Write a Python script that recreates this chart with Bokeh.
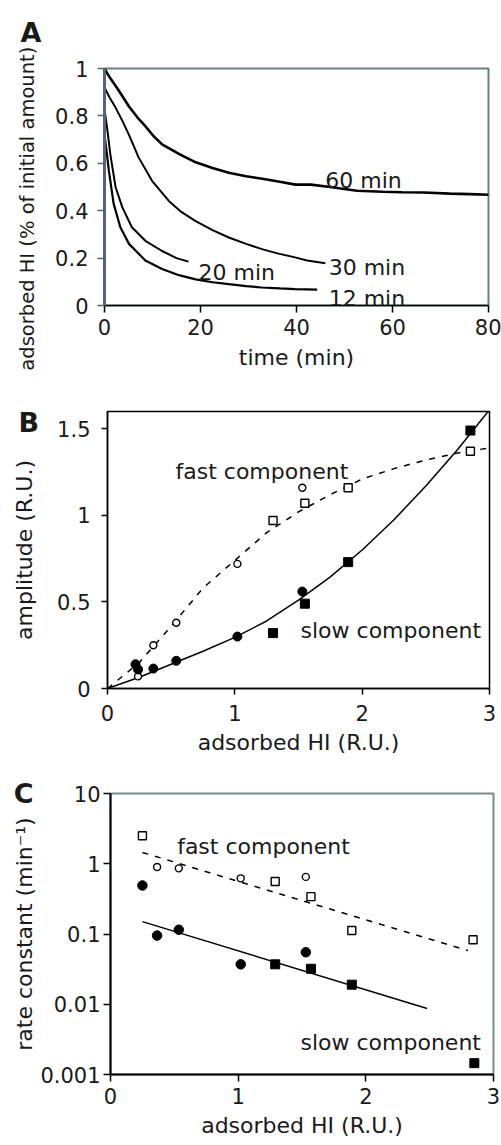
from bokeh.plotting import figure
from bokeh.models import Range1d, FixedTicker, Label, LogAxis
from bokeh.embed import file_html
from bokeh.resources import INLINE

FONT = "DejaVu Sans"
TXT = "#1a1a1a"

# ---------------- Panel A data: dissociation curves ----------------
t_60 = [0, 1, 2.3, 3.5, 5.1, 6.8, 8.5, 10.2, 12, 15.5, 19, 22.5, 25.9, 29.5,
        32.9, 36.5, 39.8, 43, 47, 52.6, 58, 62, 66.5, 72, 76, 80]
y_60 = [1.0, 0.965, 0.927, 0.89, 0.84, 0.795, 0.757, 0.715, 0.68, 0.64, 0.604,
        0.58, 0.56, 0.545, 0.535, 0.522, 0.51, 0.51, 0.5, 0.484, 0.48, 0.478,
        0.477, 0.472, 0.47, 0.467]
t_30 = [0, 1, 2.3, 3.7, 5.1, 7.1, 9.9, 13.4, 16, 18.9, 22.5, 25.9, 29.5, 32.8,
        36, 39.7, 42.2, 46]
y_30 = [0.92, 0.88, 0.835, 0.78, 0.72, 0.625, 0.526, 0.441, 0.395, 0.357,
        0.318, 0.287, 0.26, 0.238, 0.22, 0.203, 0.19, 0.178]
t_20 = [0, 0.6, 1.2, 2.3, 3.7, 5.7, 8.5, 12, 15, 17.5]
y_20 = [0.83, 0.74, 0.64, 0.5, 0.415, 0.33, 0.273, 0.23, 0.2, 0.185]
t_12 = [0, 0.5, 0.9, 1.9, 3.3, 5.1, 8.5, 12, 15.5, 19, 22.5, 25.9, 29.5, 32.8,
        36.5, 39.7, 44.3]
y_12 = [0.72, 0.64, 0.57, 0.43, 0.33, 0.26, 0.19, 0.154, 0.128, 0.11, 0.098,
        0.09, 0.082, 0.076, 0.072, 0.069, 0.067]
curve_labels_A = ["60 min", "30 min", "20 min", "12 min"]
xticks_A = [0, 20, 40, 60, 80]
yticks_A = [0, 0.2, 0.4, 0.6, 0.8, 1]
ylabels_A = ["0", "0.2", "0.4", "0.6", "0.8", "1"]

# ---------------- Panel B data: amplitudes ----------------
B_fast_circ_x = [0.24, 0.36, 0.54, 1.02, 1.53]
B_fast_circ_y = [0.07, 0.25, 0.38, 0.72, 1.16]
B_fast_sq_x = [1.30, 1.55, 1.89, 2.85]
B_fast_sq_y = [0.97, 1.07, 1.16, 1.37]
B_slow_circ_x = [0.22, 0.24, 0.36, 0.54, 1.02, 1.53]
B_slow_circ_y = [0.14, 0.11, 0.115, 0.16, 0.30, 0.56]
B_slow_sq_x = [1.30, 1.55, 1.89, 2.85]
B_slow_sq_y = [0.32, 0.49, 0.73, 1.49]
B_fit_x = [0, 0.25, 0.5, 0.75, 1, 1.25, 1.5, 1.75, 2, 2.25, 2.5, 2.75, 3]
B_fit_fast = [0, 0.15, 0.36, 0.58, 0.74, 0.90, 1.02, 1.12, 1.21, 1.27, 1.32, 1.36, 1.39]
B_fit_slow = [0, 0.065, 0.14, 0.215, 0.295, 0.39, 0.51, 0.645, 0.80, 0.975, 1.17, 1.38, 1.61]
ticks_B_x = [0, 1, 2, 3]
yticks_B = [0, 0.5, 1, 1.5]
ylabels_B = ["0", "0.5", "1", "1.5"]

# ---------------- Panel C data: rate constants ----------------
C_fast_circ_x = [0.365, 0.535, 1.02, 1.53]
C_fast_circ_y = [0.9, 0.86, 0.62, 0.65]
C_fast_sq_x = [0.25, 1.29, 1.57, 1.89, 2.84]
C_fast_sq_y = [2.5, 0.56, 0.34, 0.112, 0.083]
C_slow_circ_x = [0.25, 0.365, 0.535, 1.02, 1.53]
C_slow_circ_y = [0.49, 0.095, 0.115, 0.037, 0.055]
C_slow_sq_x = [1.29, 1.57, 1.89, 2.85]
C_slow_sq_y = [0.037, 0.032, 0.019, 0.00145]
C_fit_fast_x = [0.25, 2.80]
C_fit_fast_y = [1.45, 0.058]
C_fit_slow_x = [0.25, 2.48]
C_fit_slow_y = [0.15, 0.0087]
yticks_C = [0.001, 0.01, 0.1, 1, 10]
ylabels_C = ["0.001", "0.01", "0.1", "1", "10"]

W = 501
NB = "\u00a0"


def base_fig(letter, xr, yr, fw, fh, left, top, bottom, y_type="linear"):
    p = figure(title=letter, frame_width=fw, frame_height=fh, x_range=xr, y_range=yr,
               y_axis_type=y_type, output_backend="svg", toolbar_location=None,
               min_border_left=left, min_border_right=W - left - fw,
               min_border_top=top, min_border_bottom=bottom)
    p.title.text_font = FONT
    p.title.text_font_size = "27px"
    p.title.text_font_style = "bold"
    p.title.text_color = TXT
    p.title.align = "left"
    p.title.vertical_align = "bottom"
    p.xgrid.grid_line_color = None
    p.ygrid.grid_line_color = None
    p.background_fill_color = "white"
    p.border_fill_color = "white"
    for ax in (p.xaxis[0], p.yaxis[0]):
        ax.major_label_text_font = FONT
        ax.major_label_text_font_size = "21px"
        ax.major_label_text_color = TXT
        ax.axis_label_text_font = FONT
        ax.axis_label_text_font_size = "22px"
        ax.axis_label_text_font_style = "normal"
        ax.axis_label_text_color = TXT
        ax.major_tick_in = 0
        ax.major_tick_out = 7
        ax.minor_tick_line_color = None
        ax.axis_line_color = "black"
        ax.axis_line_width = 1.5
        ax.major_tick_line_width = 1.5
    return p


def add_text(p, x, y, text, size="22px"):
    p.add_layout(Label(x=x, y=y, text=text, text_font=FONT, text_font_size=size,
                       text_color=TXT, text_align="left", text_baseline="alphabetic"))


# ---------------- Panel A ----------------
pA = base_fig("A\n", Range1d(0, 80), Range1d(0, 1), 384, 237, 104, 68, 75)
pA.title.offset = -84
pA.title.standoff = -20
pA.xaxis.ticker = FixedTicker(ticks=xticks_A)
pA.yaxis.ticker = FixedTicker(ticks=yticks_A)
pA.yaxis.major_label_overrides = dict(zip(yticks_A, ylabels_A))
pA.yaxis.major_label_standoff = 9
pA.xaxis.major_label_standoff = 6
pA.xaxis.axis_label = "time (min)"
pA.xaxis.axis_label_standoff = 7
pA.yaxis.axis_label = "adsorbed HI (% of initial amount)" + NB * 7
pA.yaxis.axis_label_text_font_size = "19.5px"
pA.yaxis.axis_label_standoff = 13
pA.outline_line_color = "#6b8080"
pA.outline_line_width = 2
pA.yaxis.axis_line_color = "#55666a"
pA.yaxis.axis_line_width = 3
pA.yaxis.major_tick_line_color = "#55666a"

pA.line(t_60, y_60, line_color="black", line_width=2.6)
pA.line(t_30, y_30, line_color="black", line_width=2)
pA.line(t_20, y_20, line_color="black", line_width=2)
pA.line(t_12, y_12, line_color="black", line_width=2.2)

add_text(pA, 46.0, 0.527, curve_labels_A[0])
add_text(pA, 46.7, 0.160, curve_labels_A[1])
add_text(pA, 19.6, 0.139, curve_labels_A[2])
add_text(pA, 46.7, 0.030, curve_labels_A[3])

# ---------------- Panel B ----------------
pB = base_fig("\nB", Range1d(0, 3), Range1d(0, 1.6), 382, 277, 107, 31, 74)
pB.title.offset = -89
pB.title.standoff = -53
pB.xaxis.ticker = FixedTicker(ticks=ticks_B_x)
pB.yaxis.ticker = FixedTicker(ticks=yticks_B)
pB.yaxis.major_label_overrides = dict(zip(yticks_B, ylabels_B))
pB.yaxis.major_label_standoff = 11
pB.xaxis.major_label_standoff = 10
pB.yaxis.major_tick_out = 6
pB.xaxis.major_tick_out = 6
pB.xaxis.axis_label = "adsorbed HI (R.U.)"
pB.xaxis.axis_label_standoff = 6
pB.yaxis.axis_label = "amplitude (R.U.)"
pB.yaxis.axis_label_standoff = 17
pB.outline_line_color = "black"
pB.outline_line_width = 1.5

pB.line(B_fit_x, B_fit_fast, line_color="black", line_width=1.5, line_dash="6 7")
pB.line(B_fit_x, B_fit_slow, line_color="black", line_width=1.5)
pB.scatter(B_fast_circ_x, B_fast_circ_y, marker="circle", size=7,
           fill_color="white", line_color="black", line_width=1.4)
pB.scatter(B_fast_sq_x, B_fast_sq_y, marker="square", size=8,
           fill_color="white", line_color="black", line_width=1.4)
pB.scatter(B_slow_circ_x, B_slow_circ_y, marker="circle", size=9,
           fill_color="black", line_color="black")
pB.scatter(B_slow_sq_x, B_slow_sq_y, marker="square", size=9,
           fill_color="black", line_color="black")

add_text(pB, 0.534, 1.256, "fast component")
add_text(pB, 1.516, 0.335, "slow component")

# ---------------- Panel C ----------------
pC = base_fig("", Range1d(0, 3), Range1d(0.001, 10), 383, 281, 110, 31, 71,
              y_type="log")
pC.xaxis.ticker = FixedTicker(ticks=ticks_B_x)
pC.yaxis.ticker = FixedTicker(ticks=yticks_C)
pC.yaxis.major_label_overrides = dict(zip(yticks_C, ylabels_C))
pC.yaxis.major_label_standoff = 3
pC.xaxis.major_label_standoff = 6
pC.xaxis.axis_label = "adsorbed HI (R.U.)"
pC.xaxis.axis_label_standoff = 6
pC.yaxis.axis_label = "rate constant (min\u207b\u00b9)"
pC.yaxis.axis_label_standoff = 0
pC.outline_line_color = "#7a8a8a"
pC.outline_line_width = 2
pC.xaxis.axis_line_width = 2
pC.yaxis.axis_line_width = 2

# panel letter "C" carried by a bare outer axis with one labelled tick
letter_axis = LogAxis(ticker=FixedTicker(ticks=[10]), major_label_overrides={10: "C"},
                      axis_line_color=None, major_tick_line_color=None,
                      minor_tick_line_color=None, major_tick_out=0, major_tick_in=0,
                      major_label_standoff=-24, major_label_text_font=FONT,
                      major_label_text_font_size="27px",
                      major_label_text_font_style="bold",
                      major_label_text_color=TXT)
pC.add_layout(letter_axis, "left")

pC.line(C_fit_fast_x, C_fit_fast_y, line_color="black", line_width=1.5, line_dash="6 7")
pC.line(C_fit_slow_x, C_fit_slow_y, line_color="black", line_width=1.5)
pC.scatter(C_fast_circ_x, C_fast_circ_y, marker="circle", size=7,
           fill_color="white", line_color="black", line_width=1.4)
pC.scatter(C_fast_sq_x, C_fast_sq_y, marker="square", size=8,
           fill_color="white", line_color="black", line_width=1.4)
pC.scatter(C_slow_circ_x, C_slow_circ_y, marker="circle", size=9.5,
           fill_color="black", line_color="black")
pC.scatter(C_slow_sq_x, C_slow_sq_y, marker="square", size=9,
           fill_color="black", line_color="black")

add_text(pC, 0.522, 1.78, "fast component")
add_text(pC, 1.488, 0.00288, "slow component")

open("out.html", "w").write(file_html([pA, pB, pC], INLINE))
